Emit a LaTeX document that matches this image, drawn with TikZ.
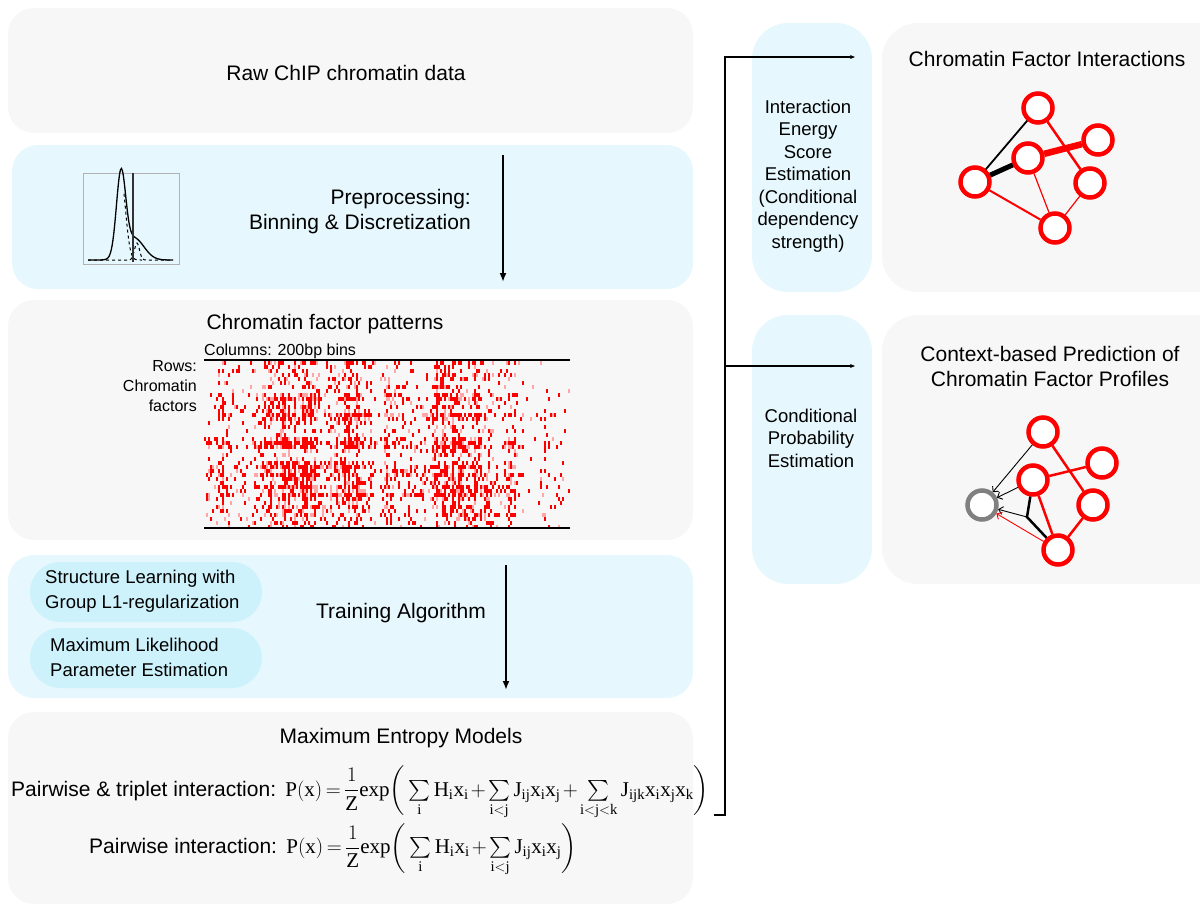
\documentclass[tikz,border=0pt]{standalone}
\usepackage{exscale}
\usepackage{fontspec}
\setmainfont{Liberation Serif}
\setsansfont{Liberation Sans}
\usetikzlibrary{arrows.meta}
\definecolor{boxgray}{RGB}{247,247,247}
\definecolor{boxcyan}{RGB}{230,248,253}
\definecolor{pillcyan}{RGB}{205,242,251}
\newcommand{\tsum}{\mathop{\textstyle\sum}\limits}
\newcommand{\eqtight}{\medmuskip=2mu\thickmuskip=3mu}
\tikzset{
  graybox/.style={fill=boxgray,rounded corners=26pt},
  cyanbox/.style={fill=boxcyan,rounded corners=26pt},
  headtxt/.style={font=\sffamily\fontsize{21}{25}\selectfont,inner sep=0pt},
  sidetxt/.style={font=\sffamily\fontsize{18.5}{22.5}\selectfont,align=center,inner sep=0pt},
  pilltxt/.style={font=\sffamily\fontsize{18.5}{25}\selectfont,align=left,inner sep=0pt},
  lbl/.style={font=\sffamily\fontsize{16}{20}\selectfont,inner sep=0pt},
  fac/.style={circle,draw=red,line width=4.5pt,fill=white,minimum size=29pt,inner sep=0pt,outer sep=2.2pt},
  flow/.style={line width=1.8pt,-{Latex[length=9pt,width=7pt]}},
  cond/.style={line width=0.9pt,-{Straight Barb[length=4pt,width=8pt]}},
  bus/.style={line width=1.3pt,-{Stealth[length=5pt,width=4pt]}}
}
% activity of 12pt column bands and of 4pt rows in the pattern map
\def\colweights{{0.15,0.5,0.3,0.25,0.35,0.8,0.85,0.85,0.8,0.6,0.35,0.7,0.9,0.55,0.15,0.6,0.4,0.45,0.3,0.85,0.85,0.85,0.8,0.6,0.25,0.6,0.1,0.08,0.15,0.15,0.06}}
\def\rowweights{{0.5,0.3,0.3,0.4,0.3,0.2,0.3,0.2,0.5,0.7,0.3,0.5,0.4,0.8,0.6,0.3,0.2,0.3,0.2,0.6,0.95,0.8,0.3,0.2,0.3,0.5,0.8,0.6,0.9,0.6,0.5,0.8,0.6,0.9,0.5,0.4,0.6,0.4,0.6,0.3,0.3,0.2}}
\begin{document}
\begin{tikzpicture}[x=1pt,y=-1pt]
\useasboundingbox (0,0) rectangle (1200,906);
% panels
\fill[graybox] (8,8) rectangle (693,133);
\fill[cyanbox] (12,145) rectangle (693,289);
\fill[graybox] (8,300) rectangle (693,540);
\fill[cyanbox] (8,555) rectangle (693,698);
\fill[graybox] (8,712) rectangle (693,904);
\fill[cyanbox,rounded corners=36pt] (752,23) rectangle (872,292);
\fill[graybox,rounded corners=36pt] (882,23) rectangle (1240,292);
\fill[cyanbox,rounded corners=36pt] (752,315) rectangle (872,584);
\fill[graybox,rounded corners=36pt] (882,315) rectangle (1240,584);
\fill[pillcyan,rounded corners=30pt] (30,562) rectangle (262,622);
\fill[pillcyan,rounded corners=30pt] (30,628) rectangle (262,688);

\node[headtxt] (raw) at (346,73) {Raw ChIP chromatin data};

% binning
\draw[gray!60,line width=1pt] (83,173) rectangle (179,264);
\draw[line width=1.3pt,domain=88:173,samples=90,smooth] plot (\x,{260-82*exp(0-((\x-121)/6.5)^2)-22*exp(0-((\x-134)/14)^2)});
\draw[dashed,line width=1pt,domain=88:173,samples=60,smooth] plot (\x,{260-17*exp(0-((\x-137)/3.5)^2)});
\draw[dashed,line width=1pt,domain=124:142,samples=20,smooth] plot (\x,{260-82*exp(0-((\x-121)/6.5)^2)});
\draw[line width=1.1pt,black!80] (133,173)--(133,262);
\node[headtxt,align=right,anchor=east] (prep) at (471,212) {Preprocessing:\\Binning \& Discretization};
\coordinate (d1s) at (503,155); \coordinate (d1e) at (503,282);
\draw[flow] (d1s)--(d1e);

% pattern map
\node[headtxt] (pat) at (325,324) {Chromatin factor patterns};
\node[lbl,anchor=west] (cols) at (204,351) {Columns: 200bp bins};
\node[lbl,align=right,anchor=east] (rows) at (197,386) {Rows:\\Chromatin\\factors};
\pgfmathsetseed{7}
\foreach \c in {0,...,182}{
  \pgfmathsetmacro\cw{1.3*\colweights[int(\c/6)]*(rnd<0.25?1.3:0.7)}
  \foreach \r in {0,...,41}{
    \pgfmathsetmacro\pr{\cw*\rowweights[\r]+0.01}
    \pgfmathsetmacro\u{rnd}
    \ifdim\u pt<\pr pt
      \pgfmathtruncatemacro\tone{\u<0.75*\pr?100:35}
      \fill[red!\tone] (204+2*\c,361+4*\r) rectangle ++(2,3.6);
    \fi
  }
}
\draw[line width=1.2pt] (204,360)--(570,360) (204,528)--(570,528);

% training
\node[headtxt] (train) at (401,613) {Training Algorithm};
\node[pilltxt,anchor=west] (slearn) at (45,591) {Structure Learning with\\Group L1-regularization};
\node[pilltxt,anchor=west] (mle) at (50,657) {Maximum Likelihood\\Parameter Estimation};
\coordinate (d2s) at (506,565); \coordinate (d2e) at (506,690);
\draw[flow] (d2s)--(d2e);

% models
\node[headtxt] (maxent) at (401,738) {Maximum Entropy Models};
\node[headtxt,anchor=west] (eq1) at (11,793) {Pairwise \& triplet interaction:\ \,{\eqtight$\displaystyle\mathrm{P(x)}=\frac{1}{\mathrm{Z}}\mathrm{exp}\bigg(\tsum_{\mathrm{i}}\mathrm{H_ix_i}+\tsum_{\mathrm{i<j}}\mathrm{J_{ij}x_ix_j}+\tsum_{\mathrm{i<j<k}}\mathrm{J_{ijk}x_ix_jx_k}\bigg)$}};
\node[headtxt,anchor=west] (eq2) at (89,850) {Pairwise interaction:\ \,{\eqtight$\displaystyle\mathrm{P(x)}=\frac{1}{\mathrm{Z}}\mathrm{exp}\bigg(\tsum_{\mathrm{i}}\mathrm{H_ix_i}+\tsum_{\mathrm{i<j}}\mathrm{J_{ij}x_ix_j}\bigg)$}};

% to the right column
\coordinate (busb) at (725,815);
\coordinate (tip1) at (855,57);
\coordinate (tip2) at (855,366);
\draw[bus] ([xshift=5pt]eq1.east |- busb)--(busb)|-(tip1);
\draw[bus] (busb |- tip2)--(tip2);
\node[sidetxt] (energy) at (808,176) {Interaction\\Energy\\Score\\Estimation\\(Conditional\\dependency\\strength)};
\node[sidetxt] (condp) at (811,438) {Conditional\\Probability\\Estimation};

% interactions
\node[headtxt] (cfi) at (1047,59) {Chromatin Factor Interactions};
\node[fac] (a1) at (1038,108) {};
\node[fac] (b1) at (1098,140) {};
\node[fac] (c1) at (1028,158) {};
\node[fac] (d1) at (975,182) {};
\node[fac] (e1) at (1090,183) {};
\node[fac] (f1) at (1055,228) {};
\draw[line width=1.8pt] (a1)--(d1);
\draw[line width=5pt] (c1)--(d1);
\draw[red,line width=6.5pt] (c1)--(b1);
\draw[red,line width=2.5pt] (a1)--(e1);
\draw[red,line width=2pt] (d1)--(f1);
\draw[red,line width=1.2pt] (c1)--(f1) (e1)--(f1);

% prediction
\node[headtxt,align=center] (ctx) at (1050,366) {Context-based Prediction of\\Chromatin Factor Profiles};
\node[fac] (a2) at (1043,432) {};
\node[fac] (b2) at (1102,463) {};
\node[fac] (c2) at (1033,480) {};
\node[fac,draw=gray] (g2) at (982,505) {};
\node[fac] (e2) at (1093,505) {};
\node[fac] (f2) at (1058,550) {};
\coordinate (j2) at (1027,517);
\draw[red,line width=2.5pt] (a2)--(e2) (c2)--(b2) (c2)--(f2) (e2)--(f2);
\draw[line width=2.5pt] (c2)--(j2)--(f2);
\draw[cond] (a2)--(g2);
\draw[cond] (c2)--(g2);
\draw[cond] (j2)--(g2);
\draw[cond,red] (f2)--(g2);
\end{tikzpicture}
\end{document}
